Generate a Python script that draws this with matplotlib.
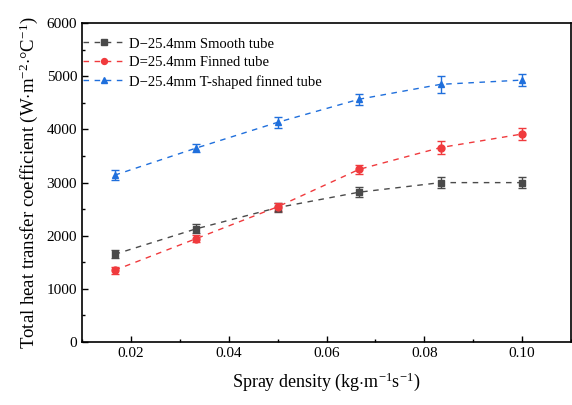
import matplotlib
matplotlib.use("Agg")
import matplotlib.pyplot as plt
from matplotlib.ticker import MultipleLocator

plt.rcParams["font.family"] = ["Liberation Serif", "DejaVu Serif"]
plt.rcParams["mathtext.fontset"] = "custom"
plt.rcParams["mathtext.rm"] = "Liberation Serif"
plt.rcParams["mathtext.it"] = "Liberation Serif:italic"

# spray density (kg m-1 s-1)
spray = [0.01667, 0.03333, 0.05, 0.06667, 0.08333, 0.1]

smooth = [1650, 2130, 2530, 2820, 3000, 3000]
smooth_err = [75, 85, 85, 95, 105, 105]
finned = [1350, 1945, 2545, 3250, 3660, 3915]
finned_err = [70, 70, 80, 85, 115, 105]
tfinned = [3140, 3650, 4135, 4570, 4850, 4930]
tfinned_err = [95, 80, 100, 100, 160, 115]

labels = ["D\u221225.4mm Smooth tube", "D=25.4mm Finned tube",
          "D\u221225.4mm T-shaped finned tube"]

fig = plt.figure(figsize=(5.72, 4.05), dpi=100)
ax = fig.add_axes([0.1434, 0.1556, 0.855, 0.787])

series = [
    (smooth, smooth_err, "#4a4a4a", "s"),
    (finned, finned_err, "#f03a3d", "o"),
    (tfinned, tfinned_err, "#1f6fdc", "^"),
]
handles = []
for vals, err, col, mk in series:
    c = ax.errorbar(spray, vals, yerr=err, color=col, marker=mk, markersize=5,
                    linestyle=(0, (4, 4)), linewidth=1.0, capsize=3,
                    elinewidth=1.0, capthick=1.0)
    handles.append(c[0])

ax.set_xlim(0.01, 0.11)
ax.set_ylim(0, 6000)
ax.xaxis.set_major_locator(MultipleLocator(0.02))
ax.xaxis.set_minor_locator(MultipleLocator(0.01))
ax.yaxis.set_major_locator(MultipleLocator(1000))
ax.yaxis.set_minor_locator(MultipleLocator(500))
ax.xaxis.set_major_formatter(matplotlib.ticker.FormatStrFormatter("%.2f"))
ax.tick_params(which="both", direction="in", labelsize=11, width=1.0)
ax.tick_params(which="major", length=4)
ax.tick_params(which="minor", length=2)
for s in ax.spines.values():
    s.set_linewidth(1.2)

ax.set_xlabel(r"Spray density (kg$\cdot$m$^{-1}$s$^{-1}$)", fontsize=13, labelpad=8)
ax.set_ylabel(r"Total heat transfer coefficient (W$\cdot$m$^{-2}$$\cdot$°C$^{-1}$)",
              fontsize=13.5, labelpad=5)

ax.legend(handles, labels, loc="upper left", bbox_to_anchor=(-0.003, 0.965),
          frameon=False, fontsize=10.5, handlelength=2.8, markerscale=0.85,
          borderaxespad=0.0, labelspacing=0.38, handletextpad=0.3, borderpad=0.2)

fig.savefig("out.png", dpi=100)
